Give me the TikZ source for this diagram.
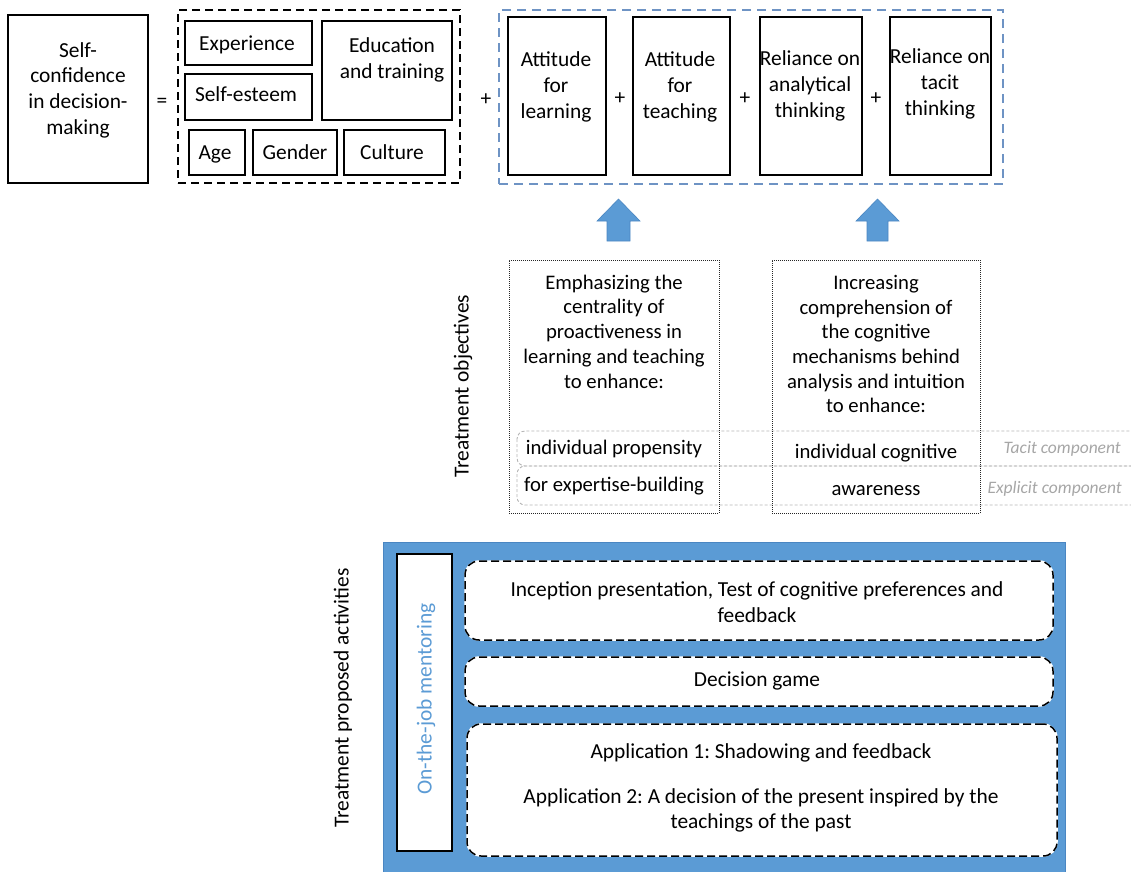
\documentclass[tikz,border=0pt]{standalone}
\usepackage{fontspec}
\setmainfont{Carlito}
\frenchspacing
\definecolor{officeblue}{HTML}{5B9BD5}
\definecolor{officeedge}{HTML}{4A86C2}
\definecolor{dashblue}{HTML}{6E93C4}
\definecolor{bandgray}{HTML}{B4B4B4}
\definecolor{notegray}{HTML}{A6A6A6}
\begin{document}
\begin{tikzpicture}[x=1pt,y=-1pt,
  box/.style={draw=black, line width=1.3pt, inner sep=0pt},
  groupbox/.style={draw=black, line width=1.3pt, dash pattern=on 8pt off 5pt, inner sep=0pt},
  bluegroup/.style={draw=dashblue, line width=1.4pt, dash pattern=on 9pt off 6pt, inner sep=0pt},
  objbox/.style={draw=black!85, line width=1pt, dash pattern=on 1pt off 1pt, inner sep=0pt},
  band/.style={draw=bandgray, line width=0.9pt, dash pattern=on 3pt off 2pt, rounded corners=8pt},
  actbox/.style={rounded corners=14pt, fill=white, draw=black, line width=1.5pt,
    dash pattern=on 8pt off 4pt, preaction={draw=white, solid, line width=1.5pt}, inner sep=0pt},
  txt/.style={font=\fontsize{21.4}{25.7}\selectfont, align=center, inner sep=0pt},
  one/.style={txt, text height=16pt, text depth=3pt},
  otxt/.style={font=\fontsize{20.7}{24.7}\selectfont, align=center, inner sep=0pt},
  oone/.style={otxt, text height=16pt, text depth=3pt},
  note/.style={font=\fontsize{17.5}{20}\selectfont\itshape, text=notegray, inner sep=0pt,
    anchor=east, text height=13pt, text depth=3pt},
  blockarrow/.style={fill=officeblue, draw=officeedge, line width=0.6pt}
]
\useasboundingbox (0,0) rectangle (1131,871);
\clip (0,0) rectangle (1131,871);

% ---- equation: self-confidence = factors + attitudes ----
\node[box, minimum width=140, minimum height=168] (sc) at (78,99) {};
\node[txt] (sct) at (78,90) {Self-\\confidence\\in decision-\\making};
\node[one] (eq) at (162,101) {=};

\node[groupbox, minimum width=282, minimum height=173] (factors) at (319,96.5) {};
\node[box, minimum width=127, minimum height=44] (exp) at (248.5,43) {};
\node[one] (expt) at (247,44) {Experience};
\node[box, minimum width=127, minimum height=46] (est) at (248.5,97) {};
\node[one] (estt) at (246,95) {Self-esteem};
\node[box, minimum width=130, minimum height=99] (edu) at (387,70.5) {};
\node[txt] (edut) at (392,60) {Education\\and training};
\node[box, minimum width=56, minimum height=45] (age) at (217,152.5) {};
\node[one] (aget) at (215,153) {Age};
\node[box, minimum width=84, minimum height=45] (gen) at (295,152.5) {};
\node[one] (gent) at (295,153) {Gender};
\node[box, minimum width=101, minimum height=45] (cul) at (394.5,152.5) {};
\node[one] (cult) at (392,153) {Culture};

\node[one] (plus0) at (486,99) {+};

\node[bluegroup, minimum width=504, minimum height=174] (attitudes) at (751,97) {};
\node[box, minimum width=98, minimum height=158] (al) at (557,96) {};
\node[txt] (alt) at (556,87) {Attitude\\for\\learning};
\node[one] (plus1) at (620,98) {+};
\node[box, minimum width=97, minimum height=158] (at) at (681.5,96) {};
\node[txt] (att) at (680,87) {Attitude\\for\\teaching};
\node[one] (plus2) at (745,98) {+};
\node[box, minimum width=102, minimum height=158] (ra) at (811,96) {};
\node[txt] (rat) at (810,86) {Reliance on\\analytical\\thinking};
\node[one] (plus3) at (876,98) {+};
\node[box, minimum width=101, minimum height=158] (rt) at (940.5,96) {};
\node[txt] (rtt) at (940,84) {Reliance on\\tacit\\thinking};

% ---- upward block arrows ----
\draw[blockarrow] (618.5,199) -- (640,221) -- (630,221) -- (630,241) -- (607,241) -- (607,221) -- (597,221) -- cycle;
\draw[blockarrow] (877.5,199) -- (899,221) -- (888,221) -- (888,241) -- (867,241) -- (867,221) -- (856,221) -- cycle;

% ---- treatment objectives ----
\draw[band] (517,431) rectangle (1150,466);
\draw[band] (517,466) rectangle (1150,505);

\node[objbox, minimum width=210, minimum height=253] (obj1) at (614,386.5) {};
\node[objbox, minimum width=208, minimum height=253] (obj2) at (876,386.5) {};

\node[otxt] (obj1t) at (614,331.5) {Emphasizing the\\centrality of\\proactiveness in\\learning and teaching\\to enhance:};
\node[otxt] (obj2t) at (876,344) {Increasing\\comprehension of\\the cognitive\\mechanisms behind\\analysis and intuition\\to enhance:};

\node[oone] (prop) at (614,448) {individual propensity};
\node[oone] (expb) at (614,485) {for expertise-building};
\node[oone] (cog) at (876,452) {individual cognitive};
\node[oone] (awa) at (876,489) {awareness};
\node[note] (tacit) at (1121,448) {Tacit component};
\node[note] (explicit) at (1122,488) {Explicit component};

\node[txt, rotate=90] (objlabel) at (463,386) {Treatment objectives};

% ---- treatment proposed activities ----
\node[txt, rotate=90] (actlabel) at (343,698) {Treatment proposed activities};

\node[fill=officeblue, draw=officeedge, line width=0.8pt, minimum width=682, minimum height=340, inner sep=0pt] (panel) at (724,712) {};
\node[box, fill=white, minimum width=55, minimum height=297] (ment) at (424.5,702.5) {};
\node[txt, rotate=90, text=officeblue] (mentt) at (426,699) {On-the-job mentoring};

\node[actbox, minimum width=588, minimum height=79] (act1) at (759,600.5) {};
\node[txt] (act1t) at (757,602) {Inception presentation, Test of cognitive preferences and\\feedback};
\node[actbox, minimum width=588, minimum height=49] (act2) at (759,681.5) {};
\node[one] (act2t) at (757,680) {Decision game};
\node[actbox, minimum width=590, minimum height=132] (act3) at (762,790) {};
\node[one] (app1) at (761,752) {Application 1: Shadowing and feedback};
\node[txt] (app2) at (761,810.5) {Application 2: A decision of the present inspired by the\\teachings of the past};
\end{tikzpicture}
\end{document}
